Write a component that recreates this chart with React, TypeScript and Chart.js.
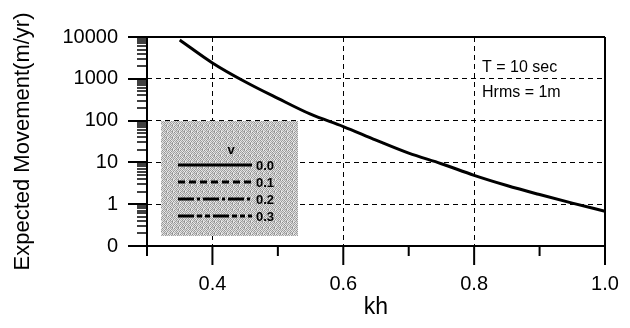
import React, { useEffect, useRef } from 'react';
import { Chart, registerables } from 'chart.js';

Chart.register(...registerables);

// ---- data ----
const kh = [0.35, 0.4, 0.45, 0.5, 0.55, 0.6, 0.65, 0.7, 0.75, 0.8, 0.85, 0.9, 0.95, 1.0];
const movement = [8500, 2400, 850, 340, 142, 72, 34, 16.6, 9.3, 4.9, 2.8, 1.7, 1.06, 0.68];

const xMajorTicks = [0.4, 0.6, 0.8, 1.0];
const xMajorLabels = ['0.4', '0.6', '0.8', '1.0'];
const xMinorTicks = [0.3, 0.5, 0.7, 0.9];

const yMajorTicks = [0.1, 1, 10, 100, 1000, 10000];
const yMajorLabels = ['0', '1', '10', '100', '1000', '10000'];
const yMinorMultipliers = [2, 3, 4, 5, 6, 7, 8, 9];

const legendTitle = 'v';
const nuValues = ['0.0', '0.1', '0.2', '0.3'];
const nuDashes: number[][] = [[], [7, 4], [16, 3, 3, 3], [16, 3, 5, 3, 5, 3]];
const conditions = ['T = 10 sec', 'Hrms = 1m'];

const xTitle = 'kh';
const yTitle = 'Expected Movement(m/yr)';

const FONT = "'Liberation Sans', Arial, Helvetica, sans-serif";

const near = (a: number, b: number) => Math.abs(a - b) < 1e-9 * Math.max(1, Math.abs(b));
const isXMajor = (v: number) => xMajorTicks.some((m) => near(v, m));
const isYMajor = (v: number) => yMajorTicks.some((m) => near(v, m));

function makeStipple(ctx: CanvasRenderingContext2D) {
  const c = document.createElement('canvas');
  c.width = 6;
  c.height = 6;
  const g = c.getContext('2d')!;
  const shades = [
    '#8c8c8c', '#e6e6e6', '#b0b0b0', '#d8d8d8', '#9a9a9a', '#ececec',
    '#dcdcdc', '#a4a4a4', '#f0f0f0', '#989898', '#d0d0d0', '#acacac',
    '#a0a0a0', '#e2e2e2', '#949494', '#e8e8e8', '#b4b4b4', '#d4d4d4',
    '#eaeaea', '#a8a8a8', '#d6d6d6', '#9c9c9c', '#eeeeee', '#929292',
    '#b8b8b8', '#dedede', '#969696', '#e4e4e4', '#a6a6a6', '#dadada',
    '#e0e0e0', '#9e9e9e', '#cccccc', '#aaaaaa', '#909090', '#e8e8e8',
  ];
  for (let i = 0; i < 36; i++) {
    g.fillStyle = shades[i];
    g.fillRect(i % 6, Math.floor(i / 6), 1, 1);
  }
  return ctx.createPattern(c, 'repeat');
}

const framePlugin = {
  id: 'frameAndDecor',
  afterDraw(chart: any) {
    const ctx: CanvasRenderingContext2D = chart.ctx;
    const xs = chart.scales.x;
    const ys = chart.scales.y;
    const { left, right, top, bottom } = chart.chartArea;
    ctx.save();
    ctx.strokeStyle = '#000';
    ctx.setLineDash([]);

    // frame
    ctx.lineWidth = 2;
    ctx.beginPath();
    ctx.moveTo(left, top);
    ctx.lineTo(right, top);
    ctx.moveTo(right, top);
    ctx.lineTo(right, bottom);
    ctx.moveTo(left, top);
    ctx.lineTo(left, bottom);
    ctx.lineTo(right, bottom);
    ctx.stroke();

    // x ticks (outward)
    xs.ticks.forEach((t: any) => {
      const px = xs.getPixelForValue(t.value);
      const major = isXMajor(t.value);
      ctx.lineWidth = 2;
      ctx.beginPath();
      ctx.moveTo(px, bottom);
      ctx.lineTo(px, bottom + (major ? 19 : 10));
      ctx.stroke();
    });

    // y ticks (outward)
    ys.ticks.forEach((t: any) => {
      const py = Math.round(ys.getPixelForValue(t.value));
      const major = isYMajor(t.value);
      ctx.lineWidth = major ? 2 : 1.5;
      ctx.beginPath();
      ctx.moveTo(left - (major ? 19 : 10), py);
      ctx.lineTo(left, py);
      ctx.stroke();
    });

    // legend box
    const bx = left + 14;
    const by = top + 84;
    const bw = 137;
    const bh = 115;
    const pat = makeStipple(ctx);
    ctx.fillStyle = pat || '#bdbdbd';
    ctx.fillRect(bx, by, bw, bh);

    ctx.fillStyle = '#000';
    ctx.font = `bold 13px ${FONT}`;
    ctx.textAlign = 'center';
    ctx.textBaseline = 'middle';
    ctx.fillText(legendTitle, bx + 70, by + 29);

    nuValues.forEach((lab, i) => {
      const yy = by + 44 + i * 17;
      ctx.lineWidth = 3;
      ctx.setLineDash(nuDashes[i]);
      ctx.beginPath();
      ctx.moveTo(bx + 17, yy);
      ctx.lineTo(bx + 91, yy);
      ctx.stroke();
      ctx.setLineDash([]);
      ctx.textAlign = 'left';
      ctx.fillText(lab, bx + 95, yy + 1);
    });

    // conditions annotation
    ctx.font = `16px ${FONT}`;
    ctx.textAlign = 'left';
    ctx.textBaseline = 'middle';
    conditions.forEach((c, i) => {
      ctx.fillText(c, right - 123, top + 31 + i * 25);
    });

    ctx.restore();
  },
};

export default function App() {
  const ref = useRef<HTMLCanvasElement | null>(null);

  useEffect(() => {
    if (!ref.current) return;
    const chart = new Chart(ref.current, {
      type: 'line',
      data: {
        datasets: [
          {
            label: 'v = 0.0',
            data: kh.map((k, i) => ({ x: k, y: movement[i] })),
            borderColor: '#000',
            borderWidth: 3,
            pointRadius: 0,
            fill: false,
            cubicInterpolationMode: 'monotone',
          },
        ],
      },
      options: {
        responsive: false,
        animation: false,
        devicePixelRatio: 1,
        layout: { padding: { left: 0, top: 37, right: 25, bottom: 0 } },
        plugins: {
          legend: { display: false },
          tooltip: { enabled: false },
        },
        scales: {
          x: {
            type: 'linear',
            min: 0.3,
            max: 1.0,
            afterBuildTicks: (scale: any) => {
              const all = [...xMinorTicks, ...xMajorTicks].sort((a, b) => a - b);
              scale.ticks = all.map((v) => ({ value: v }));
            },
            afterFit: (scale: any) => {
              scale.height = 82;
            },
            ticks: {
              autoSkip: false,
              maxRotation: 0,
              padding: 7,
              color: '#000',
              font: { family: FONT, size: 20 },
              callback: (v: any) => {
                const idx = xMajorTicks.findIndex((m) => near(Number(v), m));
                return idx >= 0 ? xMajorLabels[idx] : '';
              },
            },
            grid: {
              drawTicks: true,
              tickLength: 19,
              tickColor: 'rgba(0,0,0,0)',
              lineWidth: 1,
              color: (c: any) => {
                const v = c.tick ? c.tick.value : NaN;
                return isXMajor(v) && !near(v, 1.0) ? '#000' : 'rgba(0,0,0,0)';
              },
            },
            border: { display: false, dash: [5, 4] },
            title: {
              display: true,
              text: xTitle,
              color: '#000',
              font: { family: FONT, size: 23 },
              padding: { top: 0, bottom: 7 },
            },
          },
          y: {
            type: 'logarithmic',
            min: 0.1,
            max: 10000,
            afterBuildTicks: (scale: any) => {
              const vals: number[] = [];
              yMajorTicks.forEach((m, i) => {
                vals.push(m);
                if (i < yMajorTicks.length - 1) {
                  yMinorMultipliers.forEach((k) => vals.push(m * k));
                }
              });
              scale.ticks = vals.map((v) => ({ value: v }));
            },
            afterFit: (scale: any) => {
              scale.width = 147;
            },
            ticks: {
              autoSkip: false,
              padding: 10,
              color: '#000',
              font: { family: FONT, size: 20 },
              callback: (v: any) => {
                const idx = yMajorTicks.findIndex((m) => near(Number(v), m));
                return idx >= 0 ? yMajorLabels[idx] : '';
              },
            },
            grid: {
              drawTicks: true,
              tickLength: 19,
              tickColor: 'rgba(0,0,0,0)',
              lineWidth: 1,
              color: (c: any) => {
                const v = c.tick ? c.tick.value : NaN;
                return isYMajor(v) && !near(v, 0.1) && !near(v, 10000) ? '#000' : 'rgba(0,0,0,0)';
              },
            },
            border: { display: false, dash: [5, 4] },
            title: {
              display: true,
              text: yTitle,
              color: '#000',
              font: { family: FONT, size: 22 },
              padding: { top: 10, bottom: 0 },
            },
          },
        },
      },
      plugins: [framePlugin],
    } as any);
    return () => chart.destroy();
  }, []);

  return (
    <div style={{ position: 'absolute', left: 0, top: 0, width: 630, height: 328, background: '#fff' }}>
      <canvas ref={ref} width={630} height={328} style={{ display: 'block' }} />
    </div>
  );
}
